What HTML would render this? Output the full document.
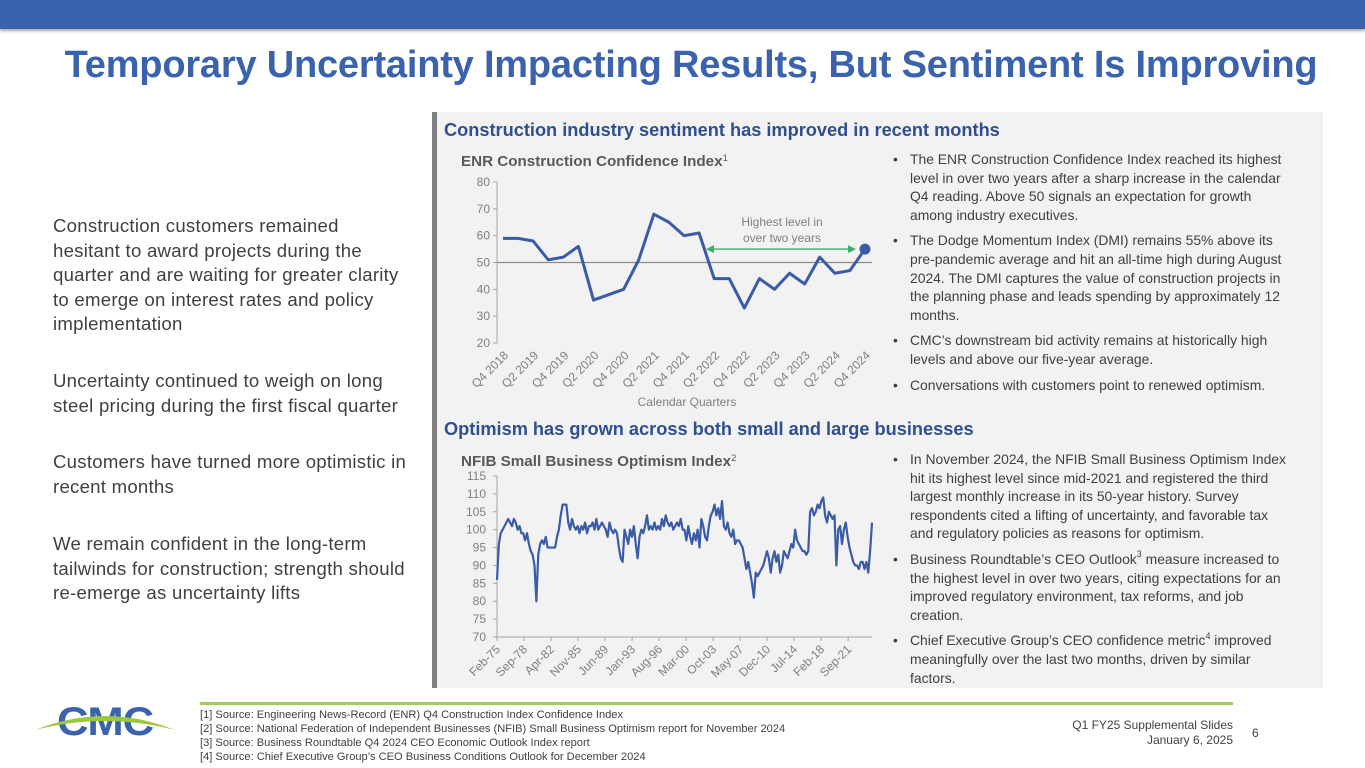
<!DOCTYPE html>
<html><head><meta charset="utf-8">
<style>
*{margin:0;padding:0;box-sizing:border-box}
body{width:1365px;height:768px;overflow:hidden;background:#fff;font-family:"Liberation Sans",sans-serif;position:relative}
.abs{position:absolute}
#topbar{left:0;top:0;width:1365px;height:29px;background:#3a62ad;box-shadow:0 2px 3px rgba(0,0,0,.35)}
#title{left:0;top:44px;width:1382px;text-align:center;font-size:38px;font-weight:bold;color:#3a62ad;letter-spacing:-0.2px}
#panel{left:432px;top:112px;width:891px;height:576px;background:#f2f2f2;border-left:5px solid #7f7f7f}
.sec{font-size:18.2px;font-weight:bold;color:#2f4f8f;white-space:nowrap}
.left{left:53px;font-size:18.6px;color:#404040;line-height:24.5px;white-space:nowrap;letter-spacing:0.25px}
.bul{left:893px;font-size:13.9px;color:#404040;line-height:18.6px;white-space:nowrap}
.bul div{padding-left:17px;position:relative;margin-bottom:7px}
.bul div:before{content:"•";position:absolute;left:0}
sup{font-size:9px;line-height:0;position:relative;top:-1px}
.foot{left:200px;top:708px;font-size:11.1px;color:#404040;line-height:14px;white-space:nowrap}
</style></head><body>
<div class="abs" id="topbar"></div>
<div class="abs" id="title">Temporary Uncertainty Impacting Results, But Sentiment Is Improving</div>

<div class="abs left" style="top:214px">Construction customers remained<br>hesitant to award projects during the<br>quarter and are waiting for greater clarity<br>to emerge on interest rates and policy<br>implementation</div>
<div class="abs left" style="top:369px">Uncertainty continued to weigh on long<br>steel pricing during the first fiscal quarter</div>
<div class="abs left" style="top:450px">Customers have turned more optimistic in<br>recent months</div>
<div class="abs left" style="top:532px">We remain confident in the long-term<br>tailwinds for construction; strength should<br>re-emerge as uncertainty lifts</div>

<div class="abs" id="panel"></div>
<div class="abs sec" style="left:444px;top:120px">Construction industry sentiment has improved in recent months</div>
<div class="abs sec" style="left:444px;top:419px">Optimism has grown across both small and large businesses</div>

<div class="abs bul" style="top:150px">
<div>The ENR Construction Confidence Index reached its highest<br>level in over two years after a sharp increase in the calendar<br>Q4 reading.  Above 50 signals an expectation for growth<br>among industry executives.</div>
<div>The Dodge Momentum Index (DMI) remains 55% above its<br>pre-pandemic average and hit an all-time high during August<br>2024.  The DMI captures the value of construction projects in<br>the planning phase and leads spending by approximately 12<br>months.</div>
<div>CMC’s downstream bid activity remains at historically high<br>levels and above our five-year average.</div>
<div>Conversations with customers point to renewed optimism.</div>
</div>
<div class="abs bul" style="top:450px">
<div>In November 2024, the NFIB Small Business Optimism Index<br>hit its highest level since mid-2021 and registered the third<br>largest monthly increase in its 50-year history.  Survey<br>respondents cited a lifting of uncertainty, and favorable tax<br>and regulatory policies as reasons for optimism.</div>
<div>Business Roundtable’s CEO Outlook<sup>3</sup> measure increased to<br>the highest level in over two years, citing expectations for an<br>improved regulatory environment, tax reforms, and job<br>creation.</div>
<div>Chief Executive Group’s CEO confidence metric<sup>4</sup> improved<br>meaningfully over the last two months, driven by similar<br>factors.</div>
</div>

<svg class="abs" style="left:0;top:0" width="1365" height="768">
<g id="enr"></g>
<g id="nfib"></g>
</svg>

<div class="abs" style="left:200px;top:702px;width:1033px;height:3px;background:#a5cc52"></div>
<div class="abs foot">[1] Source: Engineering News-Record (ENR) Q4 Construction Index Confidence Index<br>[2] Source: National Federation of Independent Businesses (NFIB) Small Business Optimism report for November 2024<br>[3] Source: Business Roundtable Q4 2024 CEO Economic Outlook Index report<br>[4] Source: Chief Executive Group’s CEO Business Conditions Outlook for December 2024</div>
<div class="abs" style="left:1000px;top:718px;width:233px;text-align:right;font-size:12px;color:#404040;line-height:15px">Q1 FY25 Supplemental Slides<br>January 6, 2025</div>
<div class="abs" style="left:1252px;top:726px;font-size:12px;color:#404040">6</div>
<svg class="abs" style="left:30px;top:698px" width="150" height="44">
<text x="75" y="37" text-anchor="middle" font-family="Liberation Sans" font-weight="bold" font-size="40" fill="#3a62ad" letter-spacing="-1" textLength="96" lengthAdjust="spacingAndGlyphs">CMC</text>
<path d="M5 32 Q75 4 145 32 Q75 14 5 32Z" fill="#9cc83f"/>
</svg>

<script>
const enrCats=["Q4 2018","Q1 2019","Q2 2019","Q3 2019","Q4 2019","Q1 2020","Q2 2020","Q3 2020","Q4 2020","Q1 2021","Q2 2021","Q3 2021","Q4 2021","Q1 2022","Q2 2022","Q3 2022","Q4 2022","Q1 2023","Q2 2023","Q3 2023","Q4 2023","Q1 2024","Q2 2024","Q3 2024","Q4 2024"];
const enrValues=[59,59,58,51,52,56,36,38,40,51,68,65,60,61,44,44,33,44,40,46,42,52,46,47,55];
const enrTicks=[20,30,40,50,60,70,80];
const nfibValues=[86,96,99,100,101,102,103,102,101,103,102,100,101,99,99,97,99,96,94,93,90,80,93,96,97,96,98,95,95,95,95,95,98,100,104,107,107,107,102,100,103,101,100,101,99,101,100,102,99,101,101,102,100,103,100,101,102,101,100,98,102,100,99,100,99,95,92,91,100,98,96,100,98,101,96,92,98,100,99,101,104,100,101,100,102,100,101,100,103,101,104,102,101,102,100,101,102,101,103,100,100,97,101,98,96,99,97,100,95,103,101,98,97,101,104,105,107,104,106,103,108,101,100,102,99,98,100,96,97,97,96,95,92,89,91,88,85,81,88,87,88,89,90,92,94,92,88,92,94,91,93,88,90,94,93,92,94,96,95,100,97,96,95,94,94,93,94,105,106,104,105,107,106,108,109,104,102,105,104,103,104,90,100,101,96,100,102,98,95,93,91,90,90,89,91,91,89,91,88,94,102];
const nfibTickLabels=["Feb-75","Sep-78","Apr-82","Nov-85","Jun-89","Jan-93","Aug-96","Mar-00","Oct-03","May-07","Dec-10","Jul-14","Feb-18","Sep-21"];
const nfibTicks=[70,75,80,85,90,95,100,105,110,115];

const NS="http://www.w3.org/2000/svg";
function mk(tag,attrs,parent,text){const e=document.createElementNS(NS,tag);for(const k in attrs)e.setAttribute(k,attrs[k]);if(text!==undefined)e.textContent=text;parent.appendChild(e);return e;}
const tickCol="#7f7f7f";

(function(){
const g=document.getElementById('enr');
const x0=503,x1=865,ax=497,yTop=182,yBot=343;
const xs=i=>x0+(x1-x0)*i/(enrCats.length-1);
const ys=v=>yBot-(v-20)/(80-20)*(yBot-yTop);
const t=mk('text',{x:461,y:166,'font-size':15.2,'font-weight':'bold',fill:'#595959'},g,'ENR Construction Confidence Index');


mk('tspan',{'font-size':9.5,dy:-5,'font-weight':'normal'},t,'1');
const axl=mk('line',{x1:ax,y1:yTop,x2:ax,y2:yBot,stroke:'#a6a6a6'},g);


enrTicks.forEach(v=>{
 const tk=mk('line',{x1:ax-4,x2:ax,y1:ys(v),y2:ys(v),stroke:'#a6a6a6'},g);
 
 
 const l=mk('text',{x:ax-7,y:ys(v)+4,'text-anchor':'end','font-size':12,fill:tickCol},g,v);
 
 
});
const ref=mk('line',{x1:ax,x2:872,y1:ys(50),y2:ys(50),stroke:'#8c8c8c','stroke-width':1.3},g);


enrCats.forEach((c,i)=>{ if(i%2) return;
 const l=mk('text',{x:xs(i)+6,y:356,'text-anchor':'end','font-size':12,fill:tickCol,transform:`rotate(-45 ${xs(i)+6} 356)`},g,c);
 
 
});
const xt=mk('text',{x:687,y:406,'text-anchor':'middle','font-size':12,fill:tickCol},g,'Calendar Quarters');


const p=mk('polyline',{points:enrValues.map((v,i)=>xs(i)+','+ys(v)).join(' '),fill:'none',stroke:'#3a5ba6','stroke-width':3,'stroke-linejoin':'round'},g);


const li=enrValues.length-1;
const d=mk('circle',{cx:xs(li),cy:ys(enrValues[li]),r:5.5,fill:'#3a5ba6'},g);


const ay=ys(enrValues[li]);
const ar=mk('g',{},g);


mk('line',{x1:712,x2:850,y1:ay,y2:ay,stroke:'#3fae6b','stroke-width':1.3},ar);
mk('path',{d:`M706 ${ay} l8 -4 v8z`,fill:'#3fae6b'},ar);
mk('path',{d:`M856 ${ay} l-8 -4 v8z`,fill:'#3fae6b'},ar);
const an=mk('text',{x:782,y:226,'text-anchor':'middle','font-size':12,fill:tickCol},g);


mk('tspan',{x:782},an,'Highest level in');
mk('tspan',{x:782,dy:16},an,'over two years');
})();

(function(){
const g=document.getElementById('nfib');
const ax=497,yTop=476,yBot=637,xEnd=872;
const months=597;
const xm=m=>ax+(xEnd-ax)*m/months;
const ys=v=>yBot-(v-70)/(115-70)*(yBot-yTop);
const t=mk('text',{x:461,y:466,'font-size':15.2,'font-weight':'bold',fill:'#595959'},g,'NFIB Small Business Optimism Index');


mk('tspan',{'font-size':9.5,dy:-5,'font-weight':'normal'},t,'2');
const a1=mk('line',{x1:ax,y1:yTop,x2:ax,y2:yBot,stroke:'#a6a6a6'},g);


const a2=mk('line',{x1:ax,y1:yBot,x2:xEnd,y2:yBot,stroke:'#a6a6a6'},g);


nfibTicks.forEach(v=>{
 const tk=mk('line',{x1:ax-4,x2:ax,y1:ys(v),y2:ys(v),stroke:'#a6a6a6'},g);
 
 
 const l=mk('text',{x:ax-11,y:ys(v)+4,'text-anchor':'end','font-size':12,fill:tickCol},g,v);
 
 
});
nfibTickLabels.forEach((c,i)=>{
 const x=xm(i*43);
 const tk=mk('line',{x1:x,x2:x,y1:yBot,y2:yBot+4,stroke:'#a6a6a6'},g);
 
 
 const l=mk('text',{x:x+4,y:650,'text-anchor':'end','font-size':12,fill:tickCol,transform:`rotate(-45 ${x+4} 650)`},g,c);
 
 
});
const n=nfibValues.length;
const p=mk('polyline',{points:nfibValues.map((v,i)=>xm(months*i/(n-1))+','+ys(v)).join(' '),fill:'none',stroke:'#3a5ba6','stroke-width':2.2,'stroke-linejoin':'round'},g);


})();
</script>
</body></html>
